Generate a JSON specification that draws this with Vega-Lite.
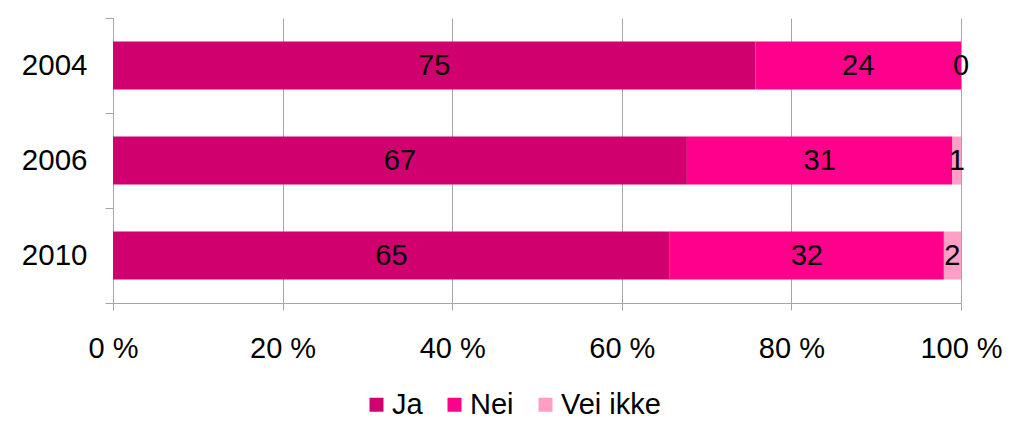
{
  "$schema": "https://vega.github.io/schema/vega-lite/v6.json",
  "width": 848,
  "height": 285,
  "autosize": "none",
  "padding": {"left": 113, "top": 18, "right": 63, "bottom": 135},
  "background": "white",
  "config": {
    "view": {"stroke": null},
    "font": "Liberation Sans",
    "axis": {"labelFont": "Liberation Sans", "labelColor": "black", "domainColor": "#a6a6a6", "tickColor": "#a6a6a6", "gridColor": "#a6a6a6"}
  },
  "data": {
    "values": [
      {"year": "2004", "answer": "Ja", "order": 1, "value": 75},
      {"year": "2004", "answer": "Nei", "order": 2, "value": 24},
      {"year": "2004", "answer": "Vei ikke", "order": 3, "value": 0},
      {"year": "2006", "answer": "Ja", "order": 1, "value": 67},
      {"year": "2006", "answer": "Nei", "order": 2, "value": 31},
      {"year": "2006", "answer": "Vei ikke", "order": 3, "value": 1},
      {"year": "2010", "answer": "Ja", "order": 1, "value": 65},
      {"year": "2010", "answer": "Nei", "order": 2, "value": 32},
      {"year": "2010", "answer": "Vei ikke", "order": 3, "value": 2}
    ]
  },
  "transform": [
    {"stack": "value", "groupby": ["year"], "sort": [{"field": "order"}], "offset": "normalize", "as": ["x0", "x1"]},
    {"calculate": "(datum.x0 + datum.x1) / 2", "as": "xmid"}
  ],
  "encoding": {
    "y": {
      "field": "year", "type": "nominal", "title": null,
      "scale": {"paddingInner": 0, "paddingOuter": 0},
      "axis": {"tickBand": "extent", "grid": false, "tickSize": 8, "labelFontSize": 29.5, "labelPadding": 18, "domainColor": "#a6a6a6"}
    }
  },
  "layer": [
    {
      "mark": {"type": "bar", "height": {"band": 0.505}},
      "encoding": {
        "x": {
          "field": "x0", "type": "quantitative", "title": null,
          "scale": {"domain": [0, 1], "nice": false},
          "axis": {"values": [0, 0.2, 0.4, 0.6, 0.8, 1], "labelExpr": "round(datum.value * 100) + ' %'", "grid": true, "tickSize": 7, "labelFontSize": 29, "labelPadding": 24, "labelFlush": false}
        },
        "x2": {"field": "x1"},
        "color": {
          "field": "answer", "type": "nominal", "title": null,
          "scale": {"domain": ["Ja", "Nei", "Vei ikke"], "range": ["#d1006f", "#ff008c", "#ff9fc6"]},
          "sort": {"field": "order"},
          "legend": {"orient": "none", "legendX": 249, "legendY": 372, "direction": "horizontal", "symbolType": "square", "symbolSize": 196, "symbolStrokeWidth": 0, "labelFontSize": 29, "labelColor": "black", "labelOffset": 1, "columnPadding": 17}
        }
      }
    },
    {
      "mark": {"type": "text", "fontSize": 29, "color": "black", "align": "center", "baseline": "middle"},
      "encoding": {
        "x": {"field": "xmid", "type": "quantitative"},
        "text": {"field": "value", "type": "quantitative"}
      }
    }
  ]
}
